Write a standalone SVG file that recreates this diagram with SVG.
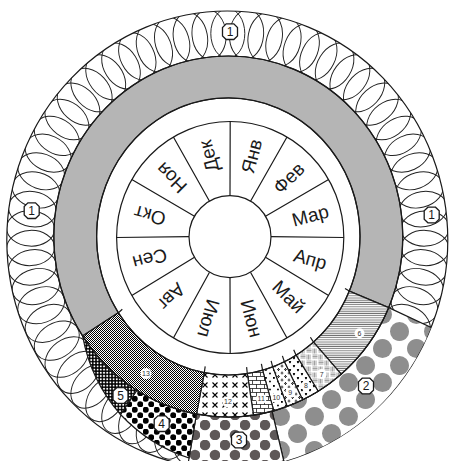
<svg xmlns="http://www.w3.org/2000/svg" xmlns:xlink="http://www.w3.org/1999/xlink" width="450" height="461" viewBox="0 0 450 461">
<style>
.ln{fill:none;stroke:#1a1a1a;stroke-width:1.2}
.seg{stroke:#1a1a1a;stroke-width:1.2}
.mon{font-family:"Liberation Sans",Arial,sans-serif;font-size:19px;fill:#1a1a1a;text-anchor:middle}
.bt{font-family:"Liberation Sans",Arial,sans-serif;font-size:12px;fill:#1a1a1a;text-anchor:middle}
.st{font-family:"Liberation Sans",Arial,sans-serif;font-size:7px;fill:#333;text-anchor:middle}
.bd{fill:#fff;stroke:#1a1a1a;stroke-width:1.3}
</style>
<defs>
<clipPath id="outerClip"><ellipse cx="227.3" cy="240" rx="220.5" ry="229"/></clipPath>
<clipPath id="ringClip"><path clip-rule="evenodd" d="M6.8,240 a220.5,229 0 1 0 441,0 a220.5,229 0 1 0 -441,0 Z M53.8,236.5 a174.5,180.5 0 1 0 349,0 a174.5,180.5 0 1 0 -349,0 Z"/></clipPath>
<ellipse id="lp" cx="0" cy="-197.5" rx="17" ry="24" fill="none" stroke="#222" stroke-width="0.95"/>
<path id="bdg" d="M-3.8,-7.8 H3.8 L7.5,-4.2 V4.2 L3.8,7.8 H-3.8 L-7.5,4.2 V-4.2 Z"/>
<pattern id="p2" width="34" height="34" patternUnits="userSpaceOnUse"><rect width="34" height="34" fill="#fff"/><circle cx="8.5" cy="8.5" r="9.5" fill="#8e8e8e"/><circle cx="25.5" cy="25.5" r="9.5" fill="#8e8e8e"/><circle cx="42.5" cy="8.5" r="9.5" fill="#8e8e8e"/><circle cx="8.5" cy="42.5" r="9.5" fill="#8e8e8e"/><circle cx="-8.5" cy="25.5" r="9.5" fill="#8e8e8e"/><circle cx="25.5" cy="-8.5" r="9.5" fill="#8e8e8e"/></pattern>
<pattern id="p3" width="20" height="20" patternUnits="userSpaceOnUse"><rect width="20" height="20" fill="#fff"/><circle cx="5" cy="5" r="5.3" fill="#5e5858"/><circle cx="15" cy="15" r="5.3" fill="#5e5858"/></pattern>
<pattern id="p4" width="11" height="11" patternUnits="userSpaceOnUse"><rect width="11" height="11" fill="#fff"/><circle cx="2.75" cy="2.75" r="3" fill="#000"/><circle cx="8.25" cy="8.25" r="3" fill="#000"/></pattern>
<pattern id="p5" width="3.2" height="3.2" patternUnits="userSpaceOnUse"><rect width="3.2" height="3.2" fill="#000"/><circle cx="1.6" cy="1.6" r="1" fill="#fff"/></pattern>
<pattern id="p6" width="4" height="2.2" patternUnits="userSpaceOnUse"><rect width="4" height="2.2" fill="#fff"/><rect y="0.6" width="4" height="0.6" fill="#222"/></pattern>
<pattern id="p7" width="12" height="12" patternUnits="userSpaceOnUse"><rect width="12" height="12" fill="#fff"/><path d="M1,0.5V5.5M2.5,0.5V5.5M4,0.5V5.5M6.5,1H11.5M6.5,2.5H11.5M6.5,4H11.5M0.5,7H5.5M0.5,8.5H5.5M0.5,10H5.5M7,6.5V11.5M8.5,6.5V11.5M10,6.5V11.5" stroke="#8a8a8a" stroke-width="0.8"/></pattern>
<pattern id="p8" width="8" height="8" patternUnits="userSpaceOnUse"><rect width="8" height="8" fill="#fff"/><path d="M2,3.6 C0.3,2.2 0.6,0.4 2,1.3 C3.4,0.4 3.7,2.2 2,3.6Z M6,7.6 C4.3,6.2 4.6,4.4 6,5.3 C7.4,4.4 7.7,6.2 6,7.6Z" fill="#000"/></pattern>
<pattern id="p9" width="7" height="7" patternUnits="userSpaceOnUse"><rect width="7" height="7" fill="#fff"/><g fill="#000"><circle cx="2" cy="1.2" r="0.6"/><circle cx="2" cy="2.8" r="0.6"/><circle cx="1.2" cy="2" r="0.6"/><circle cx="2.8" cy="2" r="0.6"/><circle cx="5.5" cy="4.7" r="0.6"/><circle cx="5.5" cy="6.3" r="0.6"/><circle cx="4.7" cy="5.5" r="0.6"/><circle cx="6.3" cy="5.5" r="0.6"/></g></pattern>
<pattern id="p10" width="8" height="8" patternUnits="userSpaceOnUse"><rect width="8" height="8" fill="#fff"/><rect x="1" y="1" width="1.8" height="1.8" fill="#000"/><path d="M6,4.3 L7.1,5.5 L6,6.7 L4.9,5.5Z" fill="#000"/></pattern>
<pattern id="p11" width="8" height="8" patternUnits="userSpaceOnUse"><rect width="8" height="8" fill="#fff"/><path d="M0,0.5H8M0,4.5H8M0.5,0.5V4.5M4.5,4.5V8.5" stroke="#000" stroke-width="0.7"/></pattern>
<pattern id="p12" width="10" height="10" patternUnits="userSpaceOnUse"><rect width="10" height="10" fill="#fff"/><path d="M2.5,2.5 L7.5,7.5 M7.5,2.5 L2.5,7.5" stroke="#000" stroke-width="1.1"/></pattern>
<pattern id="p13" width="2" height="2" patternUnits="userSpaceOnUse"><rect width="2" height="2" fill="#fff"/><rect width="1" height="1" fill="#000"/><rect x="1" y="1" width="1" height="1" fill="#000"/></pattern>
</defs>
<rect width="450" height="461" fill="#fff"/>
<g id="ring1">
<g clip-path="url(#ringClip)">
<g transform="translate(227.8 238.25) scale(1 1.0367)">
<use href="#lp" transform="rotate(0)"/><use href="#lp" transform="rotate(5.45)"/><use href="#lp" transform="rotate(10.91)"/><use href="#lp" transform="rotate(16.36)"/><use href="#lp" transform="rotate(21.82)"/><use href="#lp" transform="rotate(27.27)"/><use href="#lp" transform="rotate(32.73)"/><use href="#lp" transform="rotate(38.18)"/><use href="#lp" transform="rotate(43.64)"/><use href="#lp" transform="rotate(49.09)"/><use href="#lp" transform="rotate(54.55)"/><use href="#lp" transform="rotate(60)"/><use href="#lp" transform="rotate(65.45)"/><use href="#lp" transform="rotate(70.91)"/><use href="#lp" transform="rotate(76.36)"/><use href="#lp" transform="rotate(81.82)"/><use href="#lp" transform="rotate(87.27)"/><use href="#lp" transform="rotate(92.73)"/><use href="#lp" transform="rotate(98.18)"/><use href="#lp" transform="rotate(103.64)"/><use href="#lp" transform="rotate(109.09)"/><use href="#lp" transform="rotate(114.55)"/><use href="#lp" transform="rotate(120)"/><use href="#lp" transform="rotate(125.45)"/><use href="#lp" transform="rotate(130.91)"/><use href="#lp" transform="rotate(136.36)"/><use href="#lp" transform="rotate(141.82)"/><use href="#lp" transform="rotate(147.27)"/><use href="#lp" transform="rotate(152.73)"/><use href="#lp" transform="rotate(158.18)"/><use href="#lp" transform="rotate(163.64)"/><use href="#lp" transform="rotate(169.09)"/><use href="#lp" transform="rotate(174.55)"/><use href="#lp" transform="rotate(180)"/><use href="#lp" transform="rotate(185.45)"/><use href="#lp" transform="rotate(190.91)"/><use href="#lp" transform="rotate(196.36)"/><use href="#lp" transform="rotate(201.82)"/><use href="#lp" transform="rotate(207.27)"/><use href="#lp" transform="rotate(212.73)"/><use href="#lp" transform="rotate(218.18)"/><use href="#lp" transform="rotate(223.64)"/><use href="#lp" transform="rotate(229.09)"/><use href="#lp" transform="rotate(234.55)"/><use href="#lp" transform="rotate(240)"/><use href="#lp" transform="rotate(245.45)"/><use href="#lp" transform="rotate(250.91)"/><use href="#lp" transform="rotate(256.36)"/><use href="#lp" transform="rotate(261.82)"/><use href="#lp" transform="rotate(267.27)"/><use href="#lp" transform="rotate(272.73)"/><use href="#lp" transform="rotate(278.18)"/><use href="#lp" transform="rotate(283.64)"/><use href="#lp" transform="rotate(289.09)"/><use href="#lp" transform="rotate(294.55)"/><use href="#lp" transform="rotate(300)"/><use href="#lp" transform="rotate(305.45)"/><use href="#lp" transform="rotate(310.91)"/><use href="#lp" transform="rotate(316.36)"/><use href="#lp" transform="rotate(321.82)"/><use href="#lp" transform="rotate(327.27)"/><use href="#lp" transform="rotate(332.73)"/><use href="#lp" transform="rotate(338.18)"/><use href="#lp" transform="rotate(343.64)"/><use href="#lp" transform="rotate(349.09)"/><use href="#lp" transform="rotate(354.55)"/>
</g>
</g>
<ellipse class="ln" cx="227.3" cy="240" rx="220.5" ry="229"/>
</g>
<g id="outerSegs" clip-path="url(#outerClip)">
<path id="s2" class="seg" fill="url(#p2)" d="M388.7,307.6 L448.9,335.8 A240,252 0 0 1 288.4,480.5 L272,411.2 A174.5,180.5 0 0 0 388.7,307.6 Z"/>
<path id="s3" class="seg" fill="url(#p3)" d="M272,411.2 L288.4,480.5 A240,252 0 0 1 184.6,484.3 L196.5,414 A174.5,180.5 0 0 0 272,411.2 Z"/>
<path id="s4" class="seg" fill="url(#p4)" d="M196.5,414 L189,458 A162.2,162.2 0 0 1 120.5,414.5 L136.9,390.2 A174.5,180.5 0 0 0 196.5,414 Z"/>
<path id="s5" class="seg" fill="url(#p5)" d="M136.9,390.2 L120.5,414.5 A162.2,162.2 0 0 1 82.6,335.9 A174.5,180.5 0 0 0 136.9,390.2 Z"/>
</g>
<g id="grayRing">
<path class="seg" fill="#b5b5b5" d="M388.7,307.6 A174.5,180.5 0 1 0 82.6,335.9 L118.4,312.7 A131.7,138.5 0 1 1 349.3,291.1 Z"/>
</g>
<g id="innerSegs">
<path id="s6" class="seg" fill="url(#p6)" d="M388.7,307.6 A174.5,180.5 0 0 1 341.2,374.2 L313.5,342.1 A131.7,138.5 0 0 0 349.3,291.1 Z"/>
<path id="s7" class="seg" fill="url(#p7)" d="M341.2,374.2 A174.5,180.5 0 0 1 318.2,391.2 L296.1,355.2 A131.7,138.5 0 0 0 313.5,342.1 Z"/>
<path id="s8" class="seg" fill="url(#p8)" d="M318.2,391.2 A174.5,180.5 0 0 1 302.6,399.8 L284.4,361.8 A131.7,138.5 0 0 0 296.1,355.2 Z"/>
<path id="s9" class="seg" fill="url(#p9)" d="M302.6,399.8 A174.5,180.5 0 0 1 287.1,406.4 L272.7,366.9 A131.7,138.5 0 0 0 284.4,361.8 Z"/>
<path id="s10" class="seg" fill="url(#p10)" d="M287.1,406.4 A174.5,180.5 0 0 1 273.8,410.8 L262.6,370.2 A131.7,138.5 0 0 0 272.7,366.9 Z"/>
<path id="s11" class="seg" fill="url(#p11)" d="M273.8,410.8 A174.5,180.5 0 0 1 253.5,415.1 L247.3,373.5 A131.7,138.5 0 0 0 262.6,370.2 Z"/>
<path id="s12" class="seg" fill="url(#p12)" d="M253.5,415.1 A174.5,180.5 0 0 1 196.5,414 L204.3,372.7 A131.7,138.5 0 0 0 247.3,373.5 Z"/>
<path id="s13" class="seg" fill="url(#p13)" d="M196.5,414 A174.5,180.5 0 0 1 82.6,335.9 L118.4,312.7 A131.7,138.5 0 0 0 204.3,372.7 Z"/>
</g>
<g id="connectors" class="ln">
<ellipse cx="228.3" cy="236.5" rx="174.5" ry="180.5"/>
<ellipse cx="228.3" cy="236.5" rx="131.7" ry="138.5"/>
<path d="M345,288.5L349.3,291.1M310.4,337.2L313.5,342.1M293.7,349.7L296.1,355.2M282.4,355.9L284.4,361.8M271.1,360.8L272.7,366.9M261.4,363.9L262.6,370.2M246.6,367.1L247.3,373.5M205.2,366.3L204.3,372.7M122.3,309.2L118.4,312.7"/>
</g>
<g id="monthWheel">
<ellipse class="ln" style="fill:#fff" cx="230.2" cy="237.5" rx="113.6" ry="116"/>
<path class="ln" d="M230,195.7L230.2,121.5M250.5,201.2L287,137M265.5,216.2L328.6,179.5M271,236.7L343.8,237.5M265.5,257.2L328.6,295.5M250.5,272.2L287,338M230,277.7L230.2,353.5M209.5,272.2L173.4,338M194.5,257.2L131.8,295.5M189,236.7L116.6,237.5M194.5,216.2L131.8,179.5M209.5,201.2L173.4,137"/>
<circle class="ln" style="fill:#fff" cx="230" cy="236.7" r="41"/>
<text class="mon" transform="translate(251.6 156.1) rotate(-75)" dy=".35em">Янв</text>
<text class="mon" transform="translate(288.8 177.8) rotate(-45)" dy=".35em">Фев</text>
<text class="mon" transform="translate(310.3 215.5) rotate(-15)" dy=".35em">Мар</text>
<text class="mon" transform="translate(310.3 258.9) rotate(15)" dy=".35em">Апр</text>
<text class="mon" transform="translate(288.8 296.6) rotate(45)" dy=".35em">Май</text>
<text class="mon" transform="translate(251.6 318.3) rotate(75)" dy=".35em">Июн</text>
<text class="mon" transform="translate(208.6 318.3) rotate(105)" dy=".35em">Июл</text>
<text class="mon" transform="translate(171.4 296.6) rotate(135)" dy=".35em">Авг</text>
<text class="mon" transform="translate(149.9 258.9) rotate(165)" dy=".35em">Сен</text>
<text class="mon" transform="translate(149.9 215.5) rotate(195)" dy=".35em">Окт</text>
<text class="mon" transform="translate(171.4 177.8) rotate(225)" dy=".35em">Ноя</text>
<text class="mon" transform="translate(208.6 156.1) rotate(255)" dy=".35em">Дек</text>
</g>
<g id="badges">
<use href="#bdg" class="bd" x="230" y="31.7"/><text class="bt" x="230" y="36">1</text>
<use href="#bdg" class="bd" x="31.7" y="210.7"/><text class="bt" x="31.7" y="215">1</text>
<use href="#bdg" class="bd" x="431.7" y="215"/><text class="bt" x="431.7" y="219.3">1</text>
<use href="#bdg" class="bd" x="366" y="386"/><text class="bt" x="366" y="390.3">2</text>
<use href="#bdg" class="bd" x="239" y="440"/><text class="bt" x="239" y="444.3">3</text>
<use href="#bdg" class="bd" x="161.7" y="423.7"/><text class="bt" x="161.7" y="428">4</text>
<use href="#bdg" class="bd" x="120.5" y="395.5"/><text class="bt" x="120.5" y="399.8">5</text>
</g>
<g id="labels" fill="#fff">
<circle cx="359.5" cy="333.3" r="5"/><text class="st" x="359.5" y="335.8">6</text>
<circle cx="321.7" cy="374" r="5"/><text class="st" x="321.7" y="376.5">7</text>
<circle cx="306" cy="385.7" r="5"/><text class="st" x="306" y="388.2">8</text>
<circle cx="290.3" cy="392.7" r="5"/><text class="st" x="290.3" y="395.2">9</text>
<circle cx="276.3" cy="397.5" r="5.3"/><text class="st" x="276.3" y="400">10</text>
<circle cx="261.2" cy="398.8" r="5.3"/><text class="st" x="261.2" y="401.3">11</text>
<circle cx="228" cy="401.8" r="5.5"/><text class="st" x="228" y="404.3">12</text>
<circle cx="146" cy="373.5" r="5.5"/><text class="st" x="146" y="376">13</text>
</g>
</svg>
